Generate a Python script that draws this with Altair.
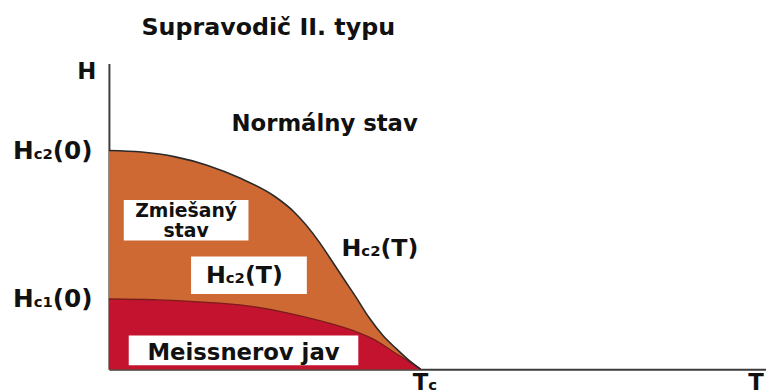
import altair as alt
import pandas as pd

# ---- data (T in units of Tc, H in units of Hc2(0)) ----
T_hc2 = [0.000, 0.105, 0.213, 0.317, 0.422, 0.530, 0.594, 0.676, 0.708, 0.752, 0.794, 0.835, 0.879, 0.921, 0.959, 1.000]
H_hc2 = [1.000, 0.993, 0.971, 0.932, 0.873, 0.792, 0.719, 0.579, 0.511, 0.416, 0.326, 0.235, 0.154, 0.095, 0.045, 0.000]
T_hc1 = [0.000, 0.159, 0.286, 0.444, 0.571, 0.676, 0.784, 0.857, 0.911, 0.962, 1.000]
H_hc1 = [0.321, 0.317, 0.308, 0.290, 0.258, 0.222, 0.176, 0.131, 0.081, 0.036, 0.000]

# ---- layout ----
PW, PH = 664, 309            # plot area in px
PX_T, PX_H = 315, 221        # px per unit T and per unit H
X_MAX, Y_MAX = PW / PX_T, PH / PX_H
LEFT, TOP = 110, 62          # page position of plot area
ORANGE, RED = "#CE6934", "#C3132F"
FONT = "DejaVu Sans"


def to_T(x):
    return (x - LEFT) / PX_T


def to_H(y):
    return (TOP + PH - y) / PX_H


# DejaVu Sans Bold advance widths (em)
W = {"H": .837, "c": .593, "2": .696, "1": .696, "(": .457, "0": .696, ")": .457, "T": .682}

piece_labels = [
    ([("H", 25), ("c2", 15), ("(0)", 25)], 13, 159),
    ([("H", 25), ("c1", 15), ("(0)", 25)], 13, 308),
    ([("H", 23), ], 78, 78),
    ([("H", 24), ("c2", 15), ("(T)", 24)], 208, 284),
    ([("H", 24), ("c2", 15), ("(T)", 24)], 345, 257),
    ([("T", 23), ("c", 15)], 417, 392),
    ([("T", 23)], 756, 392),
]
center_labels = [
    ("Supravodič II. typu", 24, 271, 33),
    ("Normálny stav", 23, 328, 130),
    ("Zmiešaný", 19, 188, 217),
    ("stav", 19, 188, 237),
    ("Meissnerov jav", 23, 246, 362),
]
boxes = [(125, 200, 251, 241), (193, 257, 310, 295), (130, 337, 362, 367)]

rows = []
for parts, x0, y0 in piece_labels:
    cx = x0
    for text, size in parts:
        rows.append(dict(text=text, T=to_T(cx), H=to_H(y0), size=size))
        cx += sum(W[ch] for ch in text) * size
left_df = pd.DataFrame(rows)
center_df = pd.DataFrame([dict(text=t, size=s, T=to_T(x), H=to_H(y)) for t, s, x, y in center_labels])
box_df = pd.DataFrame([dict(T=to_T(a), T2=to_T(c), H=to_H(b), H2=to_H(d)) for a, b, c, d in boxes])

hc2 = pd.DataFrame({"T": T_hc2, "H": H_hc2})
hc1 = pd.DataFrame({"T": T_hc1, "H": H_hc1})

xs = alt.Scale(domain=[0, X_MAX], nice=False, zero=True)
ys = alt.Scale(domain=[0, Y_MAX], nice=False, zero=True)
X = lambda f: alt.X(f, scale=xs, title=None)
Y = lambda f: alt.Y(f, scale=ys, title=None)

orange = alt.Chart(hc2).mark_area(color=ORANGE, interpolate="monotone").encode(x=X("T:Q"), y=Y("H:Q"))
red = alt.Chart(hc1).mark_area(color=RED, interpolate="monotone").encode(x=X("T:Q"), y=Y("H:Q"))
line1 = alt.Chart(hc1).mark_line(color="#7d1c1c", strokeWidth=1.3, interpolate="monotone").encode(x=X("T:Q"), y=Y("H:Q"))
line2 = alt.Chart(hc2).mark_line(color="#2a2a2a", strokeWidth=1.6, interpolate="monotone").encode(x=X("T:Q"), y=Y("H:Q"))

rects = alt.Chart(box_df).mark_rect(color="white").encode(
    x=X("T:Q"), x2="T2:Q", y=Y("H:Q"), y2="H2:Q")

txt_left = alt.Chart(left_df).mark_text(
    align="left", baseline="alphabetic", font=FONT, fontWeight="bold", color="#111"
).encode(x=X("T:Q"), y=Y("H:Q"), text="text:N", size=alt.Size("size:Q", scale=None))

txt_center = alt.Chart(center_df).mark_text(
    align="center", baseline="alphabetic", font=FONT, fontWeight="bold", color="#111"
).encode(x=X("T:Q"), y=Y("H:Q"), text="text:N", size=alt.Size("size:Q", scale=None))

chart = alt.layer(orange, red, line1, line2, rects, txt_left, txt_center).properties(
    width=PW, height=PH,
    padding={"left": 102, "top": 54, "right": 0, "bottom": 21},
    autosize=alt.AutoSizeParams(type="none"),
    background="white",
).configure_view(stroke=None).configure_axis(
    labels=False, ticks=False, grid=False, domainColor="#3c3c3c", domainWidth=2
)

chart.save("out.html", embed_options={"renderer": "svg", "actions": False})
